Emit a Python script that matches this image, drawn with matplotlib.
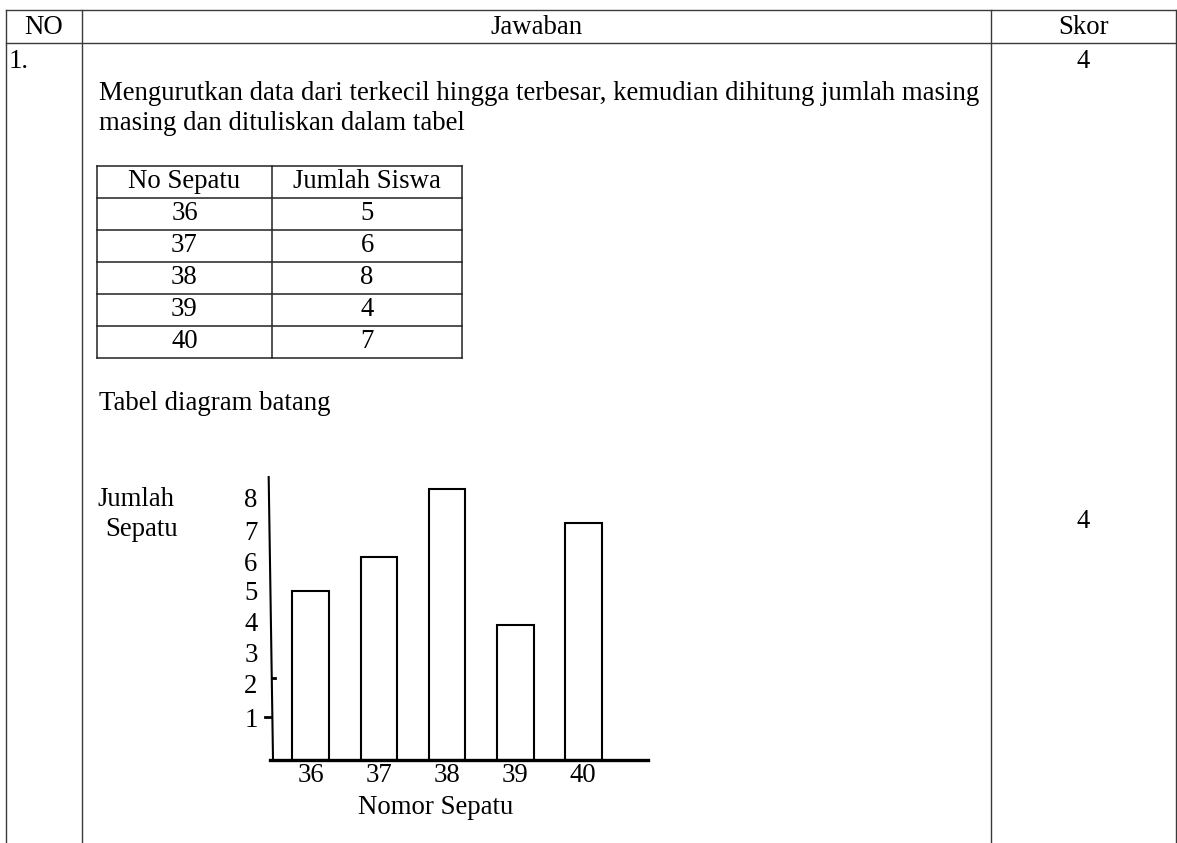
import matplotlib.pyplot as plt

# data
sepatu = ['36', '37', '38', '39', '40']
siswa = [5, 6, 8, 4, 7]
skor = ['4', '4']
header = ['NO', 'Jawaban', 'Skor']
tabel_head = ['No Sepatu', 'Jumlah Siswa']
teks1 = 'Mengurutkan data dari terkecil hingga terbesar, kemudian dihitung jumlah masing'
teks2 = 'masing dan dituliskan dalam tabel'
judul = 'Tabel diagram batang'
ylab = ['1', '2', '3', '4', '5', '6', '7', '8']
# where the y labels sit on the value scale (drawn by hand in the original)
ylab_pos = [1.27, 2.27, 3.19, 4.08, 5.02, 5.85, 6.79, 7.74]

plt.rcParams['font.family'] = ['Liberation Serif', 'DejaVu Serif']
fs = 19.3
W, H = 1177, 843
garis = '#3a3a3a'

fig = plt.figure(figsize=(W/100, H/100), dpi=100)

# page layer in pixel units (y down)
doc = fig.add_axes([0, 0, 1, 1])
doc.set_xlim(0, W)
doc.set_ylim(H, 0)
doc.axis('off')

# outer table
kolom = [6, 82, 991, 1176]
for x in kolom:
    doc.plot([x, x], [10, H], color=garis, lw=1.0)
doc.plot([6, 1176], [10, 10], color=garis, lw=1.0)
doc.plot([6, 1176], [43, 43], color=garis, lw=1.0)

doc.text((kolom[0]+kolom[1])/2, 27, header[0], fontsize=fs, ha='center', va='center')
doc.text((kolom[1]+kolom[2])/2, 27, header[1], fontsize=fs, ha='center', va='center')
doc.text((kolom[2]+kolom[3])/2, 27, header[2], fontsize=fs, ha='center', va='center')

doc.text(9, 62, '1.', fontsize=fs, ha='left', va='center')
doc.text((kolom[2]+kolom[3])/2, 61, skor[0], fontsize=fs, ha='center', va='center')
doc.text((kolom[2]+kolom[3])/2, 522, skor[1], fontsize=fs, ha='center', va='center')

doc.text(99, 93, teks1, fontsize=fs, ha='left', va='center')
doc.text(99, 124, teks2, fontsize=fs, ha='left', va='center')

# small table
tx = [97, 272, 462]
ty0 = 166
rh = 32
nrow = len(sepatu) + 1
for i in range(nrow + 1):
    doc.plot([tx[0], tx[2]], [ty0 + i*rh]*2, color='#222222', lw=1.1)
for x in tx:
    doc.plot([x, x], [ty0, ty0 + nrow*rh], color='#222222', lw=1.1)
c1 = (tx[0]+tx[1])/2
c2 = (tx[1]+tx[2])/2
doc.text(c1, ty0 + rh/2, tabel_head[0], fontsize=fs, ha='center', va='center')
doc.text(c2, ty0 + rh/2, tabel_head[1], fontsize=fs, ha='center', va='center')
for i in range(len(sepatu)):
    yy = ty0 + (i+1.5)*rh
    doc.text(c1, yy, sepatu[i], fontsize=fs, ha='center', va='center')
    doc.text(c2, yy, str(siswa[i]), fontsize=fs, ha='center', va='center')

doc.text(99, 404, judul, fontsize=fs, ha='left', va='center')

# bar chart
ax = fig.add_axes([270/W, (H-760)/H, 378/W, 281/H])
ax.patch.set_alpha(0)
pos = list(range(len(sepatu)))
ax.bar(pos, siswa, width=0.54, color='white', edgecolor='black', linewidth=1.5)
ax.set_xlim(-0.6, 4.95)
ax.set_ylim(0, 8.3)
for s in ['top', 'right', 'left']:
    ax.spines[s].set_visible(False)
ax.spines['bottom'].set_linewidth(2.4)
ax.set_xticks(pos, labels=sepatu, fontsize=fs)
ax.set_yticks(ylab_pos, labels=ylab, fontsize=fs)
ax.tick_params(axis='x', length=0, pad=2)
ax.tick_params(axis='y', length=0, pad=9)

# hand drawn y axis, a bit slanted
ax.plot([-0.0035, 0.008], [1.007, 0], transform=ax.transAxes, color='black', lw=1.5, clip_on=False)
yt = ax.get_yaxis_transform()
ax.plot([-0.012, -0.001], [ylab_pos[0]]*2, transform=yt, color='black', lw=2, clip_on=False)
ax.plot([0.006, 0.014], [ylab_pos[1] + 0.15]*2, transform=yt, color='black', lw=2, clip_on=False)

doc.text(97, 499, 'Jumlah', fontsize=fs, ha='left', va='center')
doc.text(105, 530, 'Sepatu', fontsize=fs, ha='left', va='center')
doc.text(436, 807, 'Nomor Sepatu', fontsize=fs, ha='center', va='center')

fig.savefig('out.png', dpi=100)
